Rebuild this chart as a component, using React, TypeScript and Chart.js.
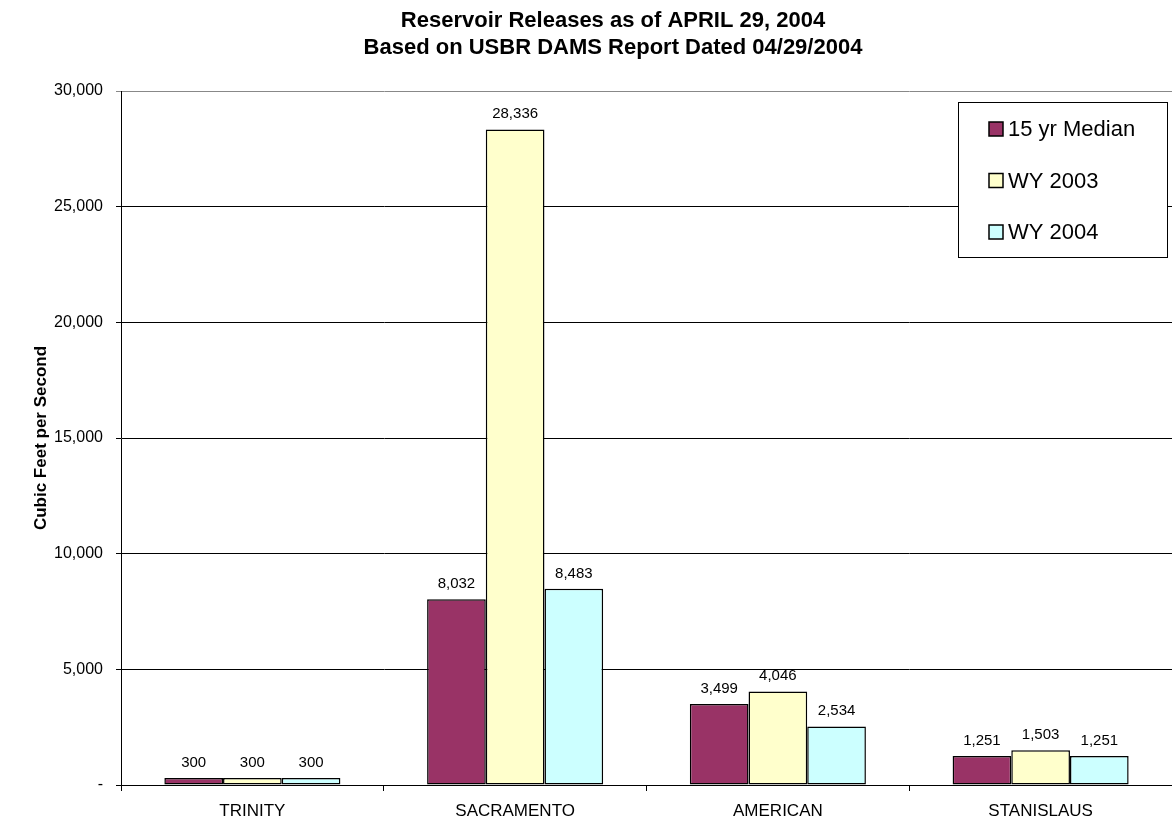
import React, { useEffect, useRef } from "react";
import { Chart, registerables } from "chart.js";

Chart.register(...registerables);

const categories = ["TRINITY", "SACRAMENTO", "AMERICAN", "STANISLAUS"];
const median15yr = [300, 8032, 3499, 1251];
const wy2003 = [300, 28336, 4046, 1503];
const wy2004 = [300, 8483, 2534, 1251];
const seriesNames = ["15 yr Median", "WY 2003", "WY 2004"];
const seriesColors = ["#993366", "#FFFFCC", "#CCFFFF"];
const titleLines = [
  "Reservoir Releases as of APRIL 29, 2004",
  "Based on USBR DAMS Report Dated 04/29/2004",
];
const yAxisTitle = "Cubic Feet per Second";
const yMin = 0;
const yMax = 30000;
const yStep = 5000;

const FONT = '"Liberation Sans", Arial, sans-serif';

const fmt = (v: number) => v.toLocaleString("en-US");

const decorPlugin = {
  id: "decor",
  afterDatasetsDraw(chart: any) {
    const ctx = chart.ctx;
    ctx.save();
    ctx.fillStyle = "#000";
    ctx.font = `15px ${FONT}`;
    ctx.textAlign = "center";
    ctx.textBaseline = "alphabetic";
    chart.data.datasets.forEach((ds: any, i: number) => {
      const meta = chart.getDatasetMeta(i);
      meta.data.forEach((bar: any, j: number) => {
        ctx.fillText(fmt(ds.data[j]), bar.x, bar.y - 11);
      });
    });
    ctx.restore();
  },
  afterDraw(chart: any) {
    const ctx = chart.ctx;
    const area = chart.chartArea;
    ctx.save();
    ctx.fillStyle = "#000";
    ctx.font = `bold 22px ${FONT}`;
    ctx.textAlign = "center";
    ctx.textBaseline = "middle";
    ctx.fillText(titleLines[0], 613, 21);
    ctx.fillText(titleLines[1], 613, 48);
    ctx.save();
    ctx.translate(41, (area.top + area.bottom) / 2);
    ctx.rotate(-Math.PI / 2);
    ctx.font = `bold 17px ${FONT}`;
    ctx.fillText(yAxisTitle, 0, 0);
    ctx.restore();
    const lx = area.right - 214;
    const ly = area.top + 11;
    const lw = 209;
    const lh = 155;
    ctx.fillStyle = "#fff";
    ctx.fillRect(lx, ly, lw, lh);
    ctx.strokeStyle = "#000";
    ctx.lineWidth = 1;
    ctx.strokeRect(lx + 0.5, ly + 0.5, lw, lh);
    ctx.font = `22px ${FONT}`;
    ctx.textAlign = "left";
    ctx.textBaseline = "middle";
    chart.data.datasets.forEach((ds: any, i: number) => {
      const cy = ly + 27 + i * 51.5;
      ctx.fillStyle = ds.backgroundColor;
      ctx.fillRect(lx + 31, cy - 7, 14, 14);
      ctx.lineWidth = 1.5;
      ctx.strokeStyle = "#000";
      ctx.strokeRect(lx + 31, cy - 7, 14, 14);
      ctx.fillStyle = "#000";
      ctx.fillText(ds.label, lx + 50, cy + 1);
    });
    ctx.restore();
  },
};

export default function App() {
  const canvasRef = useRef<HTMLCanvasElement | null>(null);

  useEffect(() => {
    const canvas = canvasRef.current;
    if (!canvas) return;
    const chart = new Chart(canvas, {
      type: "bar",
      data: {
        labels: categories,
        datasets: [median15yr, wy2003, wy2004].map((d, i) => ({
          label: seriesNames[i],
          data: d,
          backgroundColor: seriesColors[i],
          borderColor: "#000",
          borderWidth: 1.5,
          borderSkipped: false,
          categoryPercentage: 0.67,
          barPercentage: 1.0,
        })),
      },
      options: {
        responsive: false,
        animation: false,
        devicePixelRatio: 1,
        layout: { padding: { top: 91, left: 0, right: 0, bottom: 0 } },
        plugins: {
          legend: { display: false },
          title: { display: false },
          tooltip: { enabled: false },
        },
        scales: {
          x: {
            offset: true,
            grid: {
              offset: true,
              drawOnChartArea: false,
              drawTicks: true,
              tickLength: 6,
              color: "#000",
            },
            border: { display: true, color: "#000", width: 1 },
            ticks: {
              color: "#000",
              font: { family: FONT, size: 17 },
              padding: 10,
              maxRotation: 0,
            },
            afterFit: (scale: any) => {
              scale.height = 41;
            },
          },
          y: {
            min: yMin,
            max: yMax,
            grid: {
              color: (c: any) => (c.tick && c.tick.value === yMax ? "#888" : "#000"),
              lineWidth: 1,
              drawTicks: true,
              tickLength: 5,
            },
            border: { display: true, color: "#000", width: 1 },
            ticks: {
              stepSize: yStep,
              color: "#000",
              font: { family: FONT, size: 16 },
              padding: 13,
              callback: (v: any) => (Number(v) === 0 ? "-" : fmt(Number(v))),
            },
            afterFit: (scale: any) => {
              scale.width = 121;
            },
          },
        },
      },
      plugins: [decorPlugin],
    });
    return () => chart.destroy();
  }, []);

  return (
    <div style={{ position: "absolute", left: 0, top: 0, width: 1172, height: 826, background: "#fff" }}>
      <canvas ref={canvasRef} width={1172} height={826} style={{ display: "block" }} />
    </div>
  );
}
